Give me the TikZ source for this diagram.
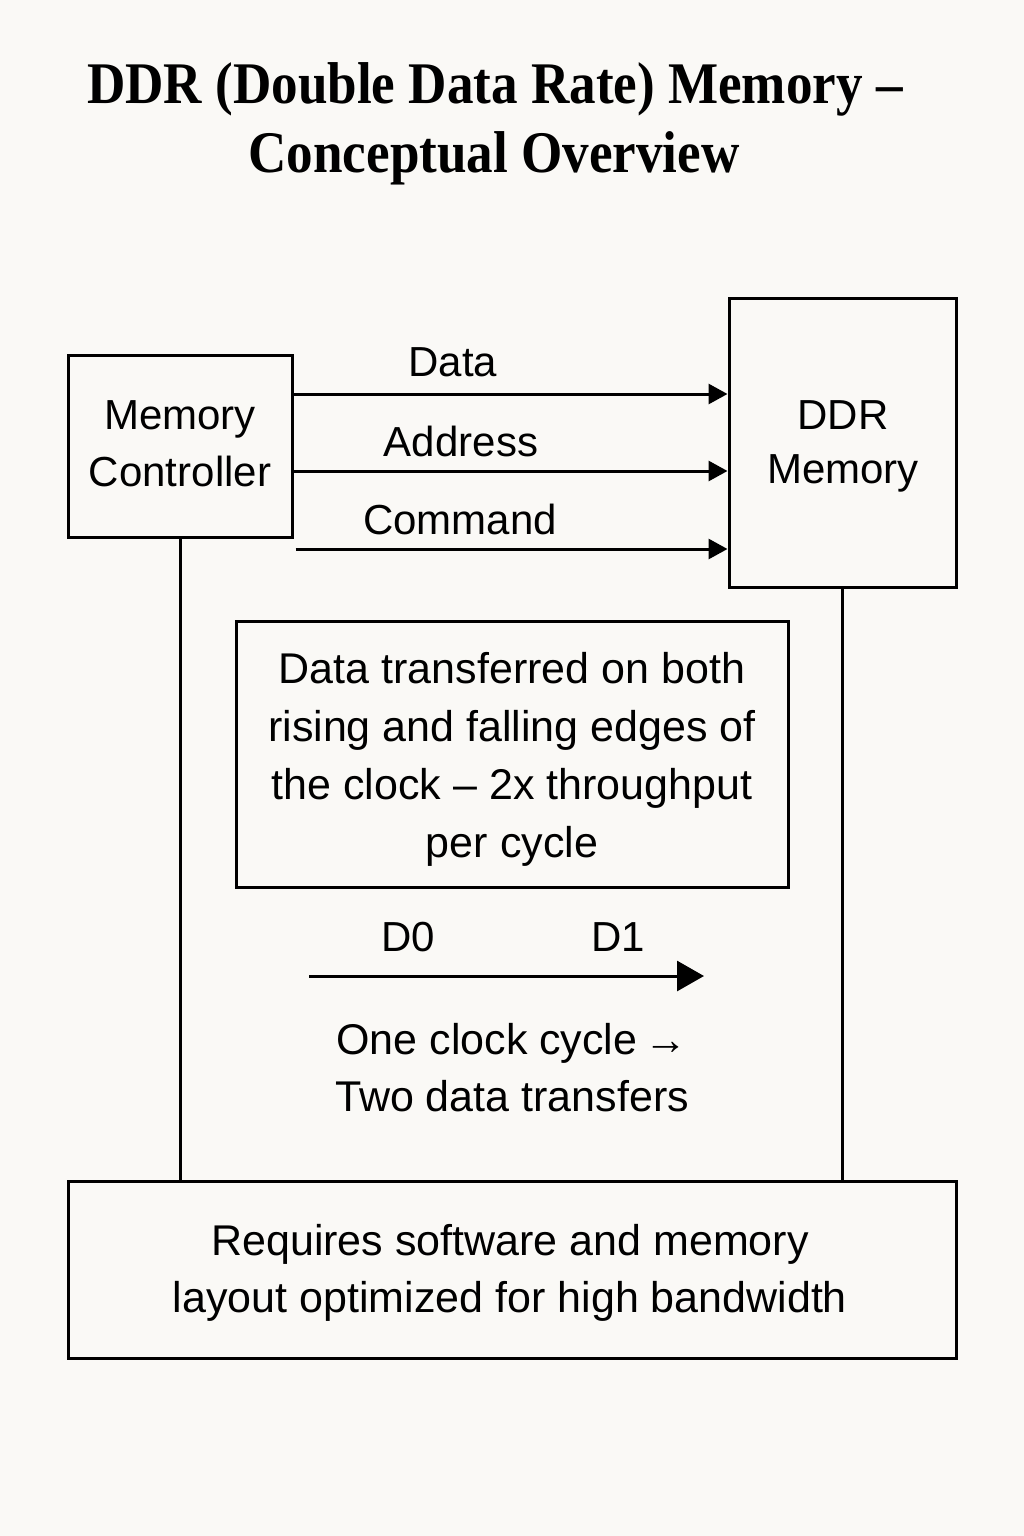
\documentclass[tikz,border=0pt]{standalone}
\usepackage{fontspec}
\setmainfont{Liberation Sans}
\newfontfamily\titlefont[FakeStretch=0.9]{Liberation Serif}
\usetikzlibrary{arrows.meta}
\definecolor{bg}{HTML}{FAF9F6}
\begin{document}
\begin{tikzpicture}[x=1pt,y=-1pt,
  box/.style={draw, line width=3pt, inner sep=0pt},
  txt/.style={inner sep=0pt, align=center, font=\fontsize{43}{58}\selectfont},
  lbl/.style={inner sep=0pt, font=\fontsize{42}{57}\selectfont},
  ttl/.style={inner sep=0pt, anchor=base, font=\titlefont\bfseries\fontsize{59}{68}\selectfont},
  sig/.style={-{Triangle[length=19pt,width=20pt]}, line width=3pt},
  clk/.style={-{Triangle[length=27pt,width=30pt]}, line width=3pt},
  wire/.style={line width=3pt}]
\fill[bg] (0,0) rectangle (1024,1536);
\useasboundingbox (0,0) rectangle (1024,1536);

% title
\node[ttl] (t1) at (495,104) {DDR (Double Data Rate) Memory –};
\node[ttl] (t2) at (494,172) {Conceptual Overview};

% boxes
\node[box, minimum width=224pt, minimum height=182pt] (mc) at (180,446) {};
\node[txt, font=\fontsize{42}{57}\selectfont] (mct) at (180,444) {Memory\\Controller};
\node[box, minimum width=227pt, minimum height=289pt] (ddr) at (842.5,442.5) {};
\node[txt, font=\fontsize{42}{54}\selectfont] (ddrt) at (843,446.5) {DDR\\Memory};
\node[box, minimum width=552pt, minimum height=266pt] (info) at (512,754) {};
\node[txt] (infot) at (512,759)
  {Data transferred on both\\rising and falling edges of\\the clock – 2x throughput\\per cycle};
\node[box, minimum width=888pt, minimum height=177pt] (req) at (512,1269.5) {};
\node[txt, font=\fontsize{43}{57}\selectfont] (reqt) at (510,1272.5)
  {Requires software and memory\\layout optimized for high bandwidth};

% signal arrows
\coordinate (sd) at ([yshift=52pt]mc.east);
\coordinate (sa) at ([yshift=-25pt]mc.east);
\coordinate (sc) at ([yshift=-103pt,xshift=2pt]mc.east);
\draw[sig] (sd) -- (ddr.west |- sd);
\draw[sig] (sa) -- (ddr.west |- sa);
\draw[sig] (sc) -- (ddr.west |- sc);
\node[lbl] (ld) at (453,362) {Data};
\node[lbl] (la) at (461,441) {Address};
\node[lbl] (lc) at (460,519) {Command};

% vertical wires
\draw[wire] (mc.south) -- (mc.south |- req.north);
\draw[wire] (ddr.south) -- (ddr.south |- req.north);

% clock
\coordinate (c0) at (309,976);
\coordinate (c1) at (704,976);
\draw[clk] (c0) -- (c1);
\node[lbl] (d0) at (408,937) {D0};
\node[lbl] (d1) at (618,937) {D1};
\node[txt, font=\fontsize{43}{57}\selectfont] (cyc) at (512,1068) {One clock cycle\,→\\Two data transfers};
\end{tikzpicture}
\end{document}
